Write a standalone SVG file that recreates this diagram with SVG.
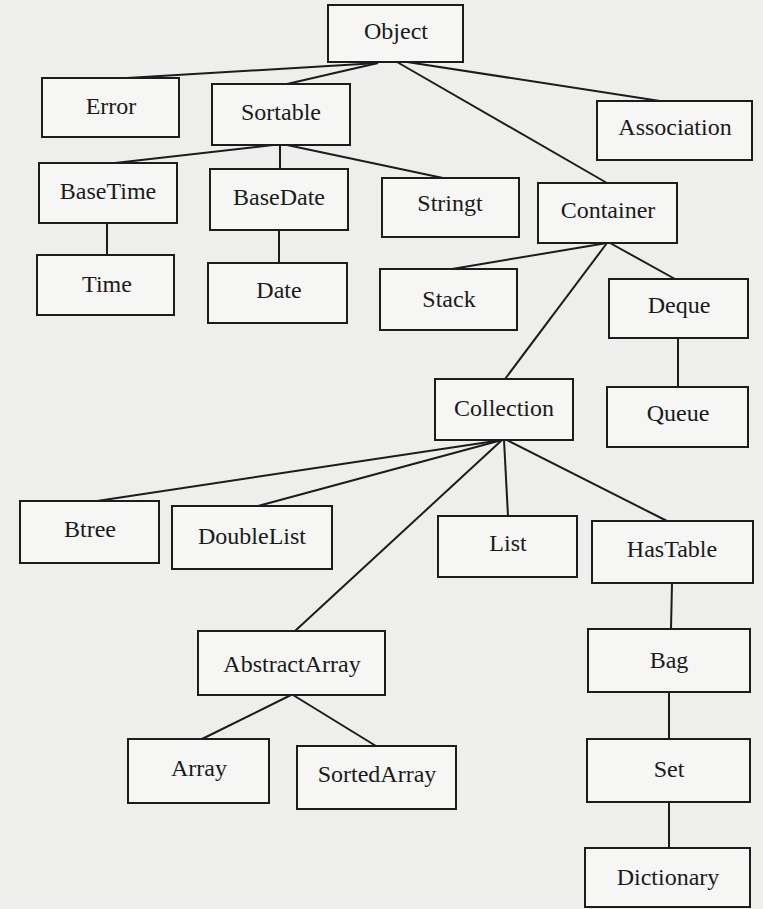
<svg xmlns="http://www.w3.org/2000/svg" width="763" height="909" viewBox="0 0 763 909">
<style>
.n rect{fill:#f6f6f4;stroke:#1c1c1c;stroke-width:2}
.n text{font-family:"Liberation Serif","Times New Roman",serif;font-size:24px;fill:#1a1a1a;text-anchor:middle}
#edges line{stroke:#1c1c1c;stroke-width:2}
</style>
<rect width="763" height="909" fill="#eeeeec"/>
<g id="edges">
<line x1="378" y1="63" x2="127" y2="78"/>
<line x1="378" y1="63" x2="287" y2="84"/>
<line x1="397" y1="62" x2="607" y2="183"/>
<line x1="407" y1="62" x2="660" y2="101"/>
<line x1="273" y1="145" x2="115" y2="163"/>
<line x1="280" y1="145" x2="280" y2="169"/>
<line x1="287" y1="145" x2="443" y2="178"/>
<line x1="107" y1="223" x2="107" y2="255"/>
<line x1="279" y1="230" x2="279" y2="263"/>
<line x1="607" y1="243" x2="452" y2="269"/>
<line x1="607" y1="243" x2="505" y2="379"/>
<line x1="610" y1="243" x2="675" y2="279"/>
<line x1="678" y1="338" x2="678" y2="387"/>
<line x1="502" y1="440" x2="97" y2="501"/>
<line x1="502" y1="440" x2="258" y2="506"/>
<line x1="502" y1="440" x2="295" y2="631"/>
<line x1="504" y1="440" x2="508" y2="516"/>
<line x1="507" y1="440" x2="667" y2="521"/>
<line x1="672" y1="583" x2="671" y2="629"/>
<line x1="669" y1="692" x2="669" y2="739"/>
<line x1="669" y1="802" x2="669" y2="848"/>
<line x1="291" y1="695" x2="202" y2="739"/>
<line x1="293" y1="695" x2="376" y2="746"/>
</g>
<g id="Object" class="n"><rect x="328" y="5" width="135" height="57"/><text x="396" y="39">Object</text></g>
<g id="Error" class="n"><rect x="42" y="78" width="137" height="59"/><text x="111" y="114">Error</text></g>
<g id="Sortable" class="n"><rect x="212" y="84" width="138" height="61"/><text x="281" y="120">Sortable</text></g>
<g id="Association" class="n"><rect x="597" y="101" width="155" height="59"/><text x="675" y="135">Association</text></g>
<g id="BaseTime" class="n"><rect x="39" y="163" width="138" height="60"/><text x="108" y="199">BaseTime</text></g>
<g id="BaseDate" class="n"><rect x="210" y="169" width="138" height="61"/><text x="279" y="205">BaseDate</text></g>
<g id="Stringt" class="n"><rect x="382" y="178" width="137" height="59"/><text x="450" y="211">Stringt</text></g>
<g id="Container" class="n"><rect x="538" y="183" width="139" height="60"/><text x="608" y="218">Container</text></g>
<g id="Time" class="n"><rect x="37" y="255" width="137" height="60"/><text x="107" y="292">Time</text></g>
<g id="Date" class="n"><rect x="208" y="263" width="139" height="60"/><text x="279" y="298">Date</text></g>
<g id="Stack" class="n"><rect x="380" y="269" width="137" height="61"/><text x="449" y="307">Stack</text></g>
<g id="Deque" class="n"><rect x="609" y="279" width="139" height="59"/><text x="679" y="313">Deque</text></g>
<g id="Collection" class="n"><rect x="435" y="379" width="138" height="61"/><text x="504" y="416">Collection</text></g>
<g id="Queue" class="n"><rect x="607" y="387" width="141" height="60"/><text x="678" y="421">Queue</text></g>
<g id="Btree" class="n"><rect x="20" y="501" width="139" height="62"/><text x="90" y="537">Btree</text></g>
<g id="DoubleList" class="n"><rect x="172" y="506" width="160" height="63"/><text x="252" y="544">DoubleList</text></g>
<g id="List" class="n"><rect x="438" y="516" width="139" height="61"/><text x="508" y="551">List</text></g>
<g id="HasTable" class="n"><rect x="592" y="521" width="161" height="62"/><text x="672" y="557">HasTable</text></g>
<g id="AbstractArray" class="n"><rect x="198" y="631" width="187" height="64"/><text x="292" y="672">AbstractArray</text></g>
<g id="Bag" class="n"><rect x="588" y="629" width="162" height="63"/><text x="669" y="668">Bag</text></g>
<g id="Array" class="n"><rect x="128" y="739" width="141" height="64"/><text x="199" y="776">Array</text></g>
<g id="SortedArray" class="n"><rect x="297" y="746" width="159" height="63"/><text x="377" y="782">SortedArray</text></g>
<g id="Set" class="n"><rect x="587" y="739" width="163" height="63"/><text x="669" y="777">Set</text></g>
<g id="Dictionary" class="n"><rect x="585" y="848" width="165" height="59"/><text x="668" y="885">Dictionary</text></g>
</svg>
